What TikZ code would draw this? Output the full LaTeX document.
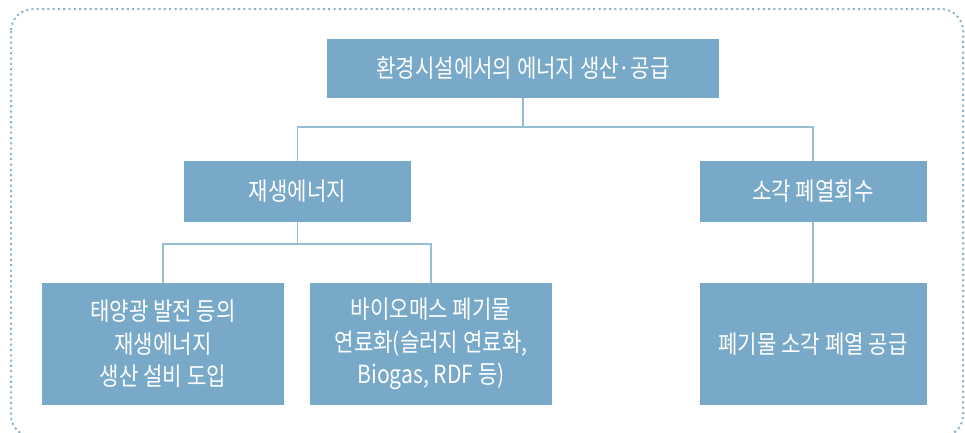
\documentclass[tikz,border=0pt]{standalone}
\usepackage{fontspec}
\setmainfont{Noto Sans CJK KR}[FakeStretch=0.845]
\definecolor{boxblue}{RGB}{120,169,200}
\definecolor{dotblue}{RGB}{135,178,207}
\definecolor{lineblue}{RGB}{150,190,215}
\begin{document}
\begin{tikzpicture}[x=1pt,y=-1pt,
  box/.style={draw=none,fill=boxblue,text=white,align=center,inner sep=0pt,
    font=\fontsize{25}{32.5}\selectfont},
  conn/.style={draw=lineblue,line width=1.3pt}]
\useasboundingbox (0,0) rectangle (965,432);
\draw[dotblue,line width=2pt,dash pattern=on 2pt off 3.3pt,rounded corners=22pt]
  (11,9) rectangle (963,437);
\node[box,minimum width=392pt,minimum height=59pt] (top) at (523,68.5) {환경시설에서의 에너지 생산·공급};
\node[box,minimum width=227pt,minimum height=61pt] (ren) at (297.5,191.5) {재생에너지};
\node[box,minimum width=227pt,minimum height=61pt] (inc) at (813,191.5) {소각 폐열회수};
\node[box,minimum width=242pt,minimum height=122pt] (b1) at (163,344) {태양광 발전 등의\\재생에너지\\생산 설비 도입};
\node[box,minimum width=242pt,minimum height=122pt] (b2) at (431,344) {바이오매스 폐기물\\연료화(슬러지 연료화,\\Biogas, RDF 등)};
\node[box,minimum width=227pt,minimum height=122pt] (b3) at (813,344) {폐기물 소각 폐열 공급};
\coordinate (busA) at (523,127);
\coordinate (busB) at (297.5,244);
\draw[conn] (top.south) -- (busA);
\draw[conn] (busA) -| (ren.north);
\draw[conn] (busA) -| (inc.north);
\draw[conn] (ren.south) -- (busB);
\draw[conn] (busB) -| (b1.north);
\draw[conn] (busB) -| (b2.north);
\draw[conn] (inc.south) -- (b3.north);
\end{tikzpicture}
\end{document}
